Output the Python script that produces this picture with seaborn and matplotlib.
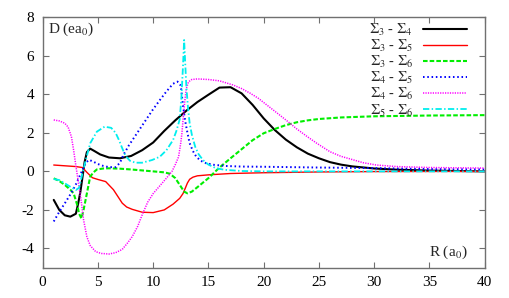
import matplotlib
matplotlib.use("Agg")
import matplotlib.pyplot as plt
import numpy as np
import pandas as pd
import seaborn as sns

# ---- data ----
x_34 = [1, 1.5, 2, 2.5, 3, 3.2, 3.4, 3.6, 3.8, 4.0, 4.3, 4.7, 5.2, 6, 7, 8, 9, 10, 11, 12, 13, 14, 15, 16,
        17, 18, 19, 20, 21, 22, 23, 24, 25, 26, 27, 28, 30, 32, 35, 40]
y_34 = [-1.48, -2.0, -2.28, -2.35, -2.2, -1.7, -1.1, -0.3, 0.5, 1.0, 1.18, 1.05, 0.88, 0.72, 0.68, 0.8, 1.1, 1.5,
        2.1, 2.65, 3.15, 3.6, 3.98, 4.35, 4.37, 4.05, 3.45, 2.75, 2.15, 1.65, 1.25, 0.92, 0.68, 0.48, 0.35, 0.26,
        0.15, 0.09, 0.04, 0.0]

x_35 = [1, 2, 3, 3.6, 4.0, 4.5, 5, 5.7, 6.4, 6.8, 7.2, 7.6, 8.1, 9, 10, 11, 11.8, 12.4, 12.7, 12.9, 13.1, 13.3,
        13.6, 14, 15, 17, 20, 25, 30, 40]
y_35 = [0.33, 0.29, 0.25, 0.2, -0.05, -0.33, -0.42, -0.53, -0.95, -1.3, -1.65, -1.85, -1.97, -2.12, -2.14, -2.0,
        -1.7, -1.4, -1.15, -0.88, -0.6, -0.41, -0.3, -0.23, -0.18, -0.11, -0.07, -0.03, -0.01, 0.0]

x_36 = [1, 1.5, 2, 2.5, 2.8, 3.1, 3.3, 3.5, 3.7, 4.0, 4.3, 4.6, 4.9, 5.5, 6, 7, 8, 9, 10, 11, 11.5, 12, 12.4,
        12.8, 13.1, 13.5, 14, 15, 16, 17, 18, 19, 20, 21, 22, 23, 24, 25, 27, 30, 35, 40]
y_36 = [-0.36, -0.5, -0.7, -0.95, -1.14, -1.7, -2.2, -2.44, -2.0, -1.14, -0.27, -0.05, 0.1, 0.15, 0.16, 0.14,
        0.1, 0.05, 0.0, -0.05, -0.12, -0.35, -0.7, -1.05, -1.14, -1.05, -0.82, -0.35, 0.2, 0.68, 1.15, 1.62,
        1.98, 2.2, 2.4, 2.55, 2.65, 2.72, 2.8, 2.86, 2.9, 2.92]

x_45 = [1, 1.5, 2, 2.5, 3, 3.5, 3.9, 4.2, 4.6, 5, 5.5, 6, 6.6, 7.0, 7.3, 7.8, 8.5, 9.2, 9.9, 10.6, 11.2, 11.8,
        12.2, 12.5, 12.7, 12.9, 13.1, 13.3, 13.6, 13.9, 14.3, 14.8, 15.5, 16.6, 18, 20, 25, 30, 35, 40]
y_45 = [-2.6, -2.1, -1.66, -1.2, -0.68, -0.05, 0.45, 0.6, 0.5, 0.38, 0.28, 0.22, 0.22, 0.45, 0.85, 1.35, 1.95,
        2.55, 3.15, 3.7, 4.15, 4.55, 4.66, 4.45, 3.4, 2.6, 2.0, 1.46, 1.05, 0.76, 0.55, 0.42, 0.34, 0.28, 0.25,
        0.24, 0.2, 0.17, 0.12, 0.1]

x_46 = [1, 1.5, 2, 2.3, 2.6, 2.8, 3.0, 3.2, 3.5, 3.7, 4.0, 4.3, 4.8, 5.3, 6, 6.6, 7.2, 7.7, 8.1, 8.6, 9.0, 9.5,
        10, 10.6, 11.2, 11.7, 12.0, 12.3, 12.5, 12.6, 12.7, 12.85, 13.0, 13.2, 13.5, 14, 15, 16, 17.2, 18, 18.8,
        19.5, 20.5, 21.5, 22.2, 23, 24, 24.8, 26, 27, 27.8, 29, 30.2, 32, 35, 40]
y_46 = [2.67, 2.62, 2.5, 2.3, 1.8, 1.1, 0.3, -0.45, -1.6, -2.52, -3.4, -3.85, -4.17, -4.26, -4.29, -4.22, -4.05,
        -3.7, -3.39, -2.85, -2.26, -1.6, -1.15, -0.75, -0.35, 0.0, 0.35, 0.76, 1.5, 1.98, 2.67, 3.6, 4.3, 4.65,
        4.77, 4.8, 4.77, 4.7, 4.49, 4.3, 4.05, 3.8, 3.35, 2.9, 2.58, 2.2, 1.78, 1.46, 1.02, 0.78, 0.65, 0.45,
        0.33, 0.25, 0.2, 0.17]

x_56 = [1, 1.5, 2, 2.5, 3, 3.3, 3.6, 3.9, 4.3, 4.9, 5.6, 6.2, 6.6, 6.9, 7.2, 7.5, 7.9, 8.4, 9, 9.9, 10.6, 11.2,
        11.8, 12.1, 12.4, 12.55, 12.7, 12.8, 12.9, 13.0, 13.15, 13.3, 13.5, 13.8, 14.1, 14.5, 15, 15.7, 16.5, 18,
        20, 25, 30, 40]
y_56 = [-0.4, -0.45, -0.62, -0.8, -0.97, -0.85, -0.1, 0.59, 1.46, 2.06, 2.32, 2.26, 2.0, 1.63, 1.2, 0.8, 0.55,
        0.45, 0.45, 0.59, 0.76, 1.1, 1.63, 2.1, 2.7, 3.8, 5.5, 6.82, 5.6, 4.4, 3.3, 2.5, 1.9, 1.28, 0.9, 0.59,
        0.35, 0.16, 0.08, 0.02, 0.0, 0.0, 0.0, 0.0]

labels = [r"$\Sigma_3$ - $\Sigma_4$", r"$\Sigma_3$ - $\Sigma_5$", r"$\Sigma_3$ - $\Sigma_6$",
          r"$\Sigma_4$ - $\Sigma_5$", r"$\Sigma_4$ - $\Sigma_6$", r"$\Sigma_5$ - $\Sigma_6$"]
x_ticks = [0, 5, 10, 15, 20, 25, 30, 35, 40]
y_ticks = [-4, -2, 0, 2, 4, 6, 8]

# ---- style ----
sns.set_theme(style="ticks")
plt.rcParams["font.family"] = ["Liberation Serif", "DejaVu Serif"]
plt.rcParams["mathtext.fontset"] = "stix"

W, H = 510, 298
fig = plt.figure(figsize=(W / 100, H / 100), dpi=100)
ax = fig.add_axes([0.0837, 0.1017, 0.8667, 0.8403])

series = [
    (x_34, y_34, dict(color="#000000", lw=1.5, linestyle="-")),
    (x_35, y_35, dict(color="#ff0000", lw=1.0, linestyle="-")),
    (x_36, y_36, dict(color="#00ee00", lw=1.5, dashes=(2.2, 1.0))),
    (x_45, y_45, dict(color="#0000ff", lw=1.4, dashes=(0.8, 1.4))),
    (x_46, y_46, dict(color="#ff00ff", lw=1.1, dashes=(0.8, 0.8))),
    (x_56, y_56, dict(color="#00eeee", lw=1.3, dashes=(3.5, 1.3, 0.8, 1.3))),
]

for (xs, ys, st), lab in zip(series, labels):
    df = pd.DataFrame({"R": xs, "D": ys})
    sns.lineplot(data=df, x="R", y="D", ax=ax, estimator=None, sort=False, label=lab, **st)

ax.set_xlim(0, 40)
ax.set_ylim(-5, 8)
ax.set_xticks(x_ticks)
ax.set_yticks(y_ticks)
ax.set_xticklabels([str(t) for t in x_ticks])
ax.set_yticklabels([str(t) for t in y_ticks])
ax.set_xlabel("")
ax.set_ylabel("")
for s in ax.spines.values():
    s.set_visible(True)
    s.set_color("#707070")
    s.set_linewidth(1.0)
ax.tick_params(direction="in", length=4, width=0.8, color="#707070", labelsize=11,
               top=True, right=True, labelcolor="black", pad=6)

ax.text(0.012, 0.985, r"D (ea$_0$)", transform=ax.transAxes, ha="left", va="top", fontsize=11)
ax.text(0.962, 0.025, r"R (a$_0$)", transform=ax.transAxes, ha="right", va="bottom", fontsize=11)

leg = ax.legend(loc="upper right", bbox_to_anchor=(467 / W, 1 - 22 / H), bbox_transform=fig.transFigure,
                frameon=False, markerfirst=False, fontsize=10.5, handlelength=3.0, labelspacing=0.0,
                borderpad=0.0, borderaxespad=0.0, handletextpad=0.7)

fig.savefig("out.png", dpi=100)
